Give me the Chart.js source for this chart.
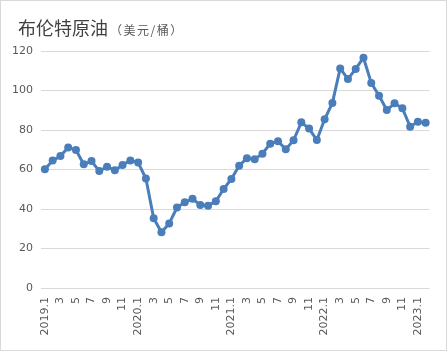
<!DOCTYPE html>
<html>
<head>
<meta charset="utf-8">
<script src="https://cdn.jsdelivr.net/npm/chart.js@4"></script>
<style>
    body { margin: 0; background: #fff; }
    #wrap { position: relative; width: 448px; height: 352px; }
    #chart { position: absolute; left: 0; top: 0; }
    #frame { position: absolute; left: 0; top: 0; width: 447px; height: 351px; box-sizing: border-box; border: 1px solid #d9d9d9; pointer-events: none; }
    #title { position: absolute; left: 18px; top: 18px; line-height: 18px; font-family: "Noto Sans CJK SC", sans-serif; font-size: 18px; color: #404040; white-space: nowrap; }
    #title span { font-size: 12px; color: #595959; margin-left: 2px; letter-spacing: 1.5px; }
</style>
</head>
<body>
<div id="wrap">
    <canvas id="chart" width="448" height="352"></canvas>
    <div id="frame"></div>
    <div id="title">布伦特原油<span>（美元/桶）</span></div>
</div>
<script>
// Monthly Brent price, 2019.1 - 2023.2
const months = [
    "2019.1", "2019.2", "2019.3", "2019.4", "2019.5", "2019.6", "2019.7", "2019.8", "2019.9", "2019.10", "2019.11", "2019.12",
    "2020.1", "2020.2", "2020.3", "2020.4", "2020.5", "2020.6", "2020.7", "2020.8", "2020.9", "2020.10", "2020.11", "2020.12",
    "2021.1", "2021.2", "2021.3", "2021.4", "2021.5", "2021.6", "2021.7", "2021.8", "2021.9", "2021.10", "2021.11", "2021.12",
    "2022.1", "2022.2", "2022.3", "2022.4", "2022.5", "2022.6", "2022.7", "2022.8", "2022.9", "2022.10", "2022.11", "2022.12",
    "2023.1", "2023.2"
];

const tickLabels = [
    "2019.1", "", "3", "", "5", "", "7", "", "9", "", "11", "",
    "2020.1", "", "3", "", "5", "", "7", "", "9", "", "11", "",
    "2021.1", "", "3", "", "5", "", "7", "", "9", "", "11", "",
    "2022.1", "", "3", "", "5", "", "7", "", "9", "", "11", "",
    "2023.1", ""
];

const brent = [
    60.1, 64.5, 66.8, 71.2, 69.9, 62.6, 64.3, 59.2, 61.4, 59.6, 62.3, 64.6,
    63.5, 55.4, 35.3, 28.2, 32.7, 40.7, 43.4, 45.2, 42.0, 41.7, 43.9, 50.1,
    55.2, 61.9, 65.7, 65.2, 68.0, 73.1, 74.3, 70.2, 74.8, 83.9, 80.7, 74.9,
    85.4, 93.7, 111.2, 105.8, 110.9, 116.6, 103.8, 97.4, 90.1, 93.5, 91.0, 81.7,
    84.2, 83.7
];

const yTicks = [0, 20, 40, 60, 80, 100, 120];

const tickFont = { family: "DejaVu Sans", size: 11 };
const tickColor = "#595959";

const ctx = document.getElementById("chart").getContext("2d");

new Chart(ctx, {
    type: "line",
    data: {
        labels: months,
        datasets: [{
            data: brent,
            borderColor: "#4a7ebb",
            backgroundColor: "#4a7ebb",
            borderWidth: 3,
            pointRadius: 4,
            pointBorderWidth: 0,
            pointHoverRadius: 4,
            tension: 0
        }]
    },
    options: {
        responsive: false,
        animation: false,
        layout: { padding: { top: 51, left: 0, right: 15, bottom: 0 } },
        plugins: {
            legend: { display: false },
            tooltip: { enabled: false }
        },
        scales: {
            x: {
                offset: true,
                grid: { display: false, drawTicks: false },
                border: { display: false },
                ticks: {
                    autoSkip: false,
                    minRotation: 90,
                    maxRotation: 90,
                    padding: 9,
                    font: tickFont,
                    color: tickColor,
                    callback: (value, index) => tickLabels[index]
                },
                afterFit: scale => { scale.height = 64; }
            },
            y: {
                min: yTicks[0],
                max: yTicks[yTicks.length - 1],
                grid: { color: "#d9d9d9", lineWidth: 1, drawTicks: false },
                border: { display: false },
                ticks: {
                    stepSize: 20,
                    padding: 8,
                    font: tickFont,
                    color: tickColor
                },
                afterFit: scale => { scale.width = 41; }
            }
        }
    }
});
</script>
</body>
</html>
